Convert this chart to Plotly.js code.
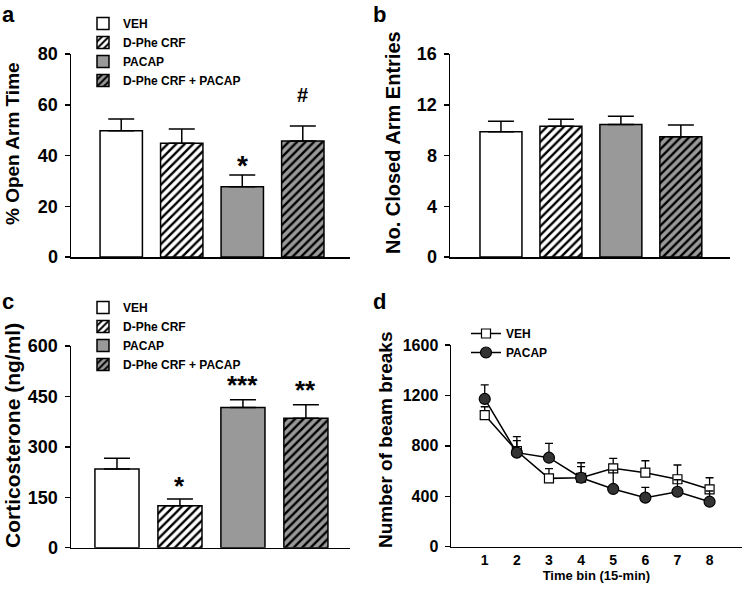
<!DOCTYPE html>
<html><head><meta charset="utf-8">
<script src="https://cdn.plot.ly/plotly-3.0.1.min.js"></script>
<style>html,body{margin:0;padding:0;background:#fff}#chart{width:743px;height:592px}</style>
</head><body><div id="chart"></div><script>
// ---- data ----
const groups = ['VEH', 'D-Phe CRF', 'PACAP', 'D-Phe CRF + PACAP'];
const openArmTime = [49.8, 44.8, 27.7, 45.7];
const openArmTimeSem = [4.6, 5.6, 4.6, 5.9];
const openArmSig = ['', '', '*', '#'];
const closedArmEntries = [9.87, 10.3, 10.45, 9.48];
const closedArmEntriesSem = [0.83, 0.55, 0.65, 0.92];
const corticosterone = [234, 125, 417, 385];
const corticosteroneSem = [32, 20, 23, 40];
const corticosteroneSig = ['', '*', '***', '**'];
const timeBins = [1, 2, 3, 4, 5, 6, 7, 8];
const vehBeams = [1044, 759, 542, 547, 622, 587, 535, 455];
const vehBeamsSem = [66, 114, 77, 119, 79, 95, 113, 92];
const pacapBeams = [1172, 746, 706, 547, 458, 389, 436, 357];
const pacapBeamsSem = [111, 95, 114, 88, 150, 82, 95, 85];

// ---- styles ----
const FONT = 'Liberation Sans, Arial, sans-serif';
const fills = ['#ffffff', '#ffffff', '#999999', '#999999'];
const shapes = ['', '/', '', '/'];

function barTraces(values, sems, xa, ya, legendName, showLegend) {
  return groups.map((g, i) => ({
    type: 'bar', name: g, x: [g], y: [values[i]],
    xaxis: xa, yaxis: ya, width: 0.7,
    legend: legendName, showlegend: showLegend,
    marker: {
      color: fills[i],
      line: {color: '#000', width: 1.5},
      pattern: {shape: shapes[i], fgcolor: '#000', bgcolor: fills[i], size: 6, solidity: 0.4, fillmode: 'replace'}
    },
    error_y: {type: 'data', array: [sems[i]], arrayminus: [0], symmetric: false,
      color: '#000', thickness: 1.5, width: 13}
  }));
}

const traces = [].concat(
  barTraces(openArmTime, openArmTimeSem, 'x', 'y', 'legend', true),
  barTraces(closedArmEntries, closedArmEntriesSem, 'x2', 'y2', 'legend', false),
  barTraces(corticosterone, corticosteroneSem, 'x3', 'y3', 'legend2', true),
  [
    {type: 'scatter', mode: 'lines+markers', name: 'VEH', x: timeBins, y: vehBeams,
      xaxis: 'x4', yaxis: 'y4', legend: 'legend3',
      line: {color: '#000', width: 1.5},
      marker: {symbol: 'square', size: 9, color: '#fff', line: {color: '#000', width: 1.2}},
      error_y: {type: 'data', array: vehBeamsSem, arrayminus: vehBeamsSem.map(() => 0), symmetric: false,
        color: '#000', thickness: 1.3, width: 4}},
    {type: 'scatter', mode: 'lines+markers', name: 'PACAP', x: timeBins, y: pacapBeams,
      xaxis: 'x4', yaxis: 'y4', legend: 'legend3',
      line: {color: '#000', width: 1.5},
      marker: {symbol: 'circle', size: 11, color: '#333333', line: {color: '#000', width: 1.2}},
      error_y: {type: 'data', array: pacapBeamsSem, arrayminus: pacapBeamsSem.map(() => 0), symmetric: false,
        color: '#000', thickness: 1.3, width: 4}}
  ]
);

function xAx(domain, range, anchor) {
  return {domain: domain, range: range, anchor: anchor, showline: true, linecolor: '#000', linewidth: 1.5,
    showticklabels: false, ticks: '', showgrid: false, zeroline: false, fixedrange: true};
}
function yAx(domain, range, dtick, anchor, size) {
  return {domain: domain, range: range, dtick: dtick, anchor: anchor, showline: true, linecolor: '#000',
    linewidth: 1.5, ticks: 'outside', ticklen: 5, tickwidth: 1.5, tickcolor: '#000',
    showgrid: false, zeroline: false, ticklabelstandoff: 3,
    tickfont: {family: FONT, size: size, weight: 'bold', color: '#000'}};
}

function sigAnnotations(sigs, values, sems, xref, yref, shiftFor, sizeFor) {
  return sigs.map((s, i) => s ? ({
    text: s, x: groups[i], y: values[i] + sems[i], xref: xref, yref: yref,
    yanchor: 'bottom', showarrow: false, yshift: shiftFor(s),
    font: {family: FONT, size: sizeFor(s), weight: 'bold', color: '#000'}
  }) : null).filter(a => a);
}

function yTitle(text, x, y, size) {
  return {text: text, xref: 'paper', yref: 'paper', x: x, y: y, textangle: -90, showarrow: false,
    xanchor: 'center', yanchor: 'middle', font: {family: FONT, size: size, weight: 'bold', color: '#000'}};
}
function panelLabel(text, x, y) {
  return {text: text, xref: 'paper', yref: 'paper', x: x, y: y, showarrow: false,
    xanchor: 'left', yanchor: 'top', font: {family: FONT, size: 22, weight: 'bold', color: '#000'}};
}

const W = 743, H = 592;
const legendFont = {family: FONT, size: 12, weight: 'bold', color: '#000'};

const layout = {
  width: W, height: H, margin: {l: 0, r: 0, t: 0, b: 0},
  paper_bgcolor: '#fff', plot_bgcolor: '#fff', barmode: 'overlay',
  font: {family: FONT, color: '#000', weight: 'bold'},
  xaxis: xAx([71 / W, 350 / W], [-0.83, 3.78], 'y'),
  yaxis: yAx([1 - 257 / H, 1 - 54 / H], [0, 80], 20, 'x', 18),
  xaxis2: xAx([450 / W, 730 / W], [-0.85, 3.82], 'y2'),
  yaxis2: yAx([1 - 257 / H, 1 - 54 / H], [0, 16], 4, 'x2', 18),
  xaxis3: xAx([71 / W, 350 / W], [-0.73, 3.70], 'y3'),
  yaxis3: yAx([1 - 547.7 / H, 1 - 346 / H], [0, 600], 150, 'x3', 18),
  xaxis4: {domain: [451 / W, 741.7 / W], range: [-0.05, 9], anchor: 'y4', showline: true, linecolor: '#000',
    linewidth: 1.5, ticks: '', tickvals: timeBins, showgrid: false, zeroline: false,
    tickfont: {family: FONT, size: 14, weight: 'bold', color: '#000'},
    title: {text: 'Time bin (15-min)', standoff: 4, font: {family: FONT, size: 13, weight: 'bold', color: '#000'}}},
  yaxis4: yAx([1 - 546.7 / H, 1 - 345 / H], [0, 1600], 400, 'x4', 16),
  legend: {x: 83 / W, y: 1 - 9 / H, xanchor: 'left', yanchor: 'top', bgcolor: 'rgba(0,0,0,0)',
    font: legendFont, tracegroupgap: 0},
  legend2: {x: 83 / W, y: 1 - 293 / H, xanchor: 'left', yanchor: 'top', bgcolor: 'rgba(0,0,0,0)',
    font: legendFont, tracegroupgap: 0},
  legend3: {x: 466 / W, y: 1 - 319 / H, xanchor: 'left', yanchor: 'top', bgcolor: 'rgba(0,0,0,0)',
    font: legendFont, tracegroupgap: 0},
  annotations: [].concat(
    sigAnnotations(openArmSig, openArmTime, openArmTimeSem, 'x', 'y',
      s => s === '#' ? 18 : -8, s => s === '#' ? 20 : 28),
    sigAnnotations(corticosteroneSig, corticosterone, corticosteroneSem, 'x3', 'y3',
      s => s === '*' ? -4 : -2, s => 26),
    [
      yTitle('% Open Arm Time', 13 / W, 1 - 144 / H, 19),
      yTitle('No. Closed Arm Entries', 393 / W, 1 - 143 / H, 20),
      yTitle('Corticosterone (ng/ml)', 12 / W, 1 - 436 / H, 21),
      yTitle('Number of beam breaks', 385 / W, 1 - 440 / H, 19),
      panelLabel('a', 0, 1 - 0 / H),
      panelLabel('b', 371 / W, 1 - 0 / H),
      panelLabel('c', 0, 1 - 287 / H),
      panelLabel('d', 371 / W, 1 - 287 / H)
    ]
  )
};

Plotly.newPlot('chart', traces, layout, {displayModeBar: false, staticPlot: true});
</script></body></html>
